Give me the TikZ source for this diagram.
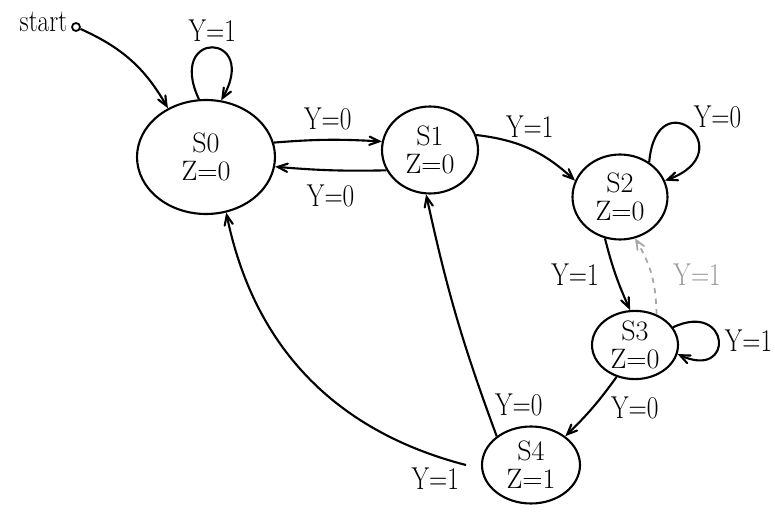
\documentclass[tikz,border=0pt]{standalone}
\usepackage{amsmath}
\usepackage{graphicx}
\usepackage{tikz}
\usepackage{xcolor}
\usetikzlibrary{positioning,shapes,arrows,automata}

\newcommand{\hand}[1]{\scalebox{0.8}[1]{#1}}

\begin{document}
\begin{tikzpicture}[x=0.02cm,y=-0.02cm]
\tikzstyle{every node}+=[inner sep=0pt]
\tikzstyle{state node}=[draw,black,ellipse,line width=1.2pt,align=center,font=\fontsize{16}{16}\selectfont]
\tikzstyle{edge}=[black,line width=1.2pt,->,>=angle 45]
\tikzstyle{ghost edge}=[black!35,line width=1pt,dashed,->,>=angle 45]
\tikzstyle{lab}=[font=\fontsize{18}{18}\selectfont]
\useasboundingbox (0,0) rectangle (775,517);
% states
\node [state node,minimum width=2.76cm,minimum height=2.28cm] (s0) at (206,157) {S0\\Z=0};
\node [state node,minimum width=1.92cm,minimum height=1.74cm] (s1) at (430,150) {S1\\Z=0};
\node [state node,minimum width=1.9cm,minimum height=1.7cm] (s2) at (620,197) {S2\\Z=0};
\node [state node,minimum width=1.72cm,minimum height=1.3cm] (s3) at (635,345) {S3\\Z=0};
\node [state node,minimum width=1.96cm,minimum height=1.54cm] (s4) at (531,465) {S4\\Z=1};
% start
\node [draw,circle,line width=1pt,minimum size=0.16cm] (start) at (76,27) {};
\node [lab,left=2pt of start,yshift=3pt] (starttext) {\hand{start}};
\draw [edge] (start) to [bend left=18] (s0.128);
% transitions
\draw [edge] (s0.97) to [out=115,in=60,looseness=9] node [lab,above=3pt] (l00) {\hand{Y=1}} (s0.75);
\draw [edge] (s0.12) to [bend left=4] node [lab,above=5pt] (l01) {\hand{Y=0}} (s1.170);
\draw [edge] (s1.205) to [bend left=3] node [lab,below=8pt] (l10) {\hand{Y=0}} (s0.-8);
\draw [edge] (s1.18) to [bend left=18] node [lab,above=6pt] (l12) {\hand{Y=1}} (s2.160);
\draw [edge] (s2.50) to [out=85,in=20,looseness=9] node [lab,pos=0.45,above right=-2pt and 4pt] (l22) {\hand{Y=0}} (s2.20);
\draw [edge] (s2.250) to [bend right=5] node [lab,left=9pt] (l23) {\hand{Y=1}} (s3.98);
\draw [ghost edge] (s3.55) to [bend right=15] node [lab,text=black!40,right=12pt] (l32) {\hand{Y=1}} (s2.290);
\draw [edge] (s3.25) to [out=25,in=-25,looseness=6] node [lab,right=3pt] (l33) {\hand{Y=1}} (s3.-12);
\draw [edge] (s3.240) to [bend left=5] node [lab,right=10pt] (l34) {\hand{Y=0}} (s4.40);
\draw [edge] (s4.140) to [bend left=4] node [lab,pos=0.12,right=5pt] (l41) {\hand{Y=0}} (s1.265);
\draw [edge] ([xshift=-0.3cm]s4.west) to [bend left=32] node [lab,pos=0.08,below=6pt] (l40) {\hand{Y=1}} (s0.290);
\end{tikzpicture}
\end{document}
